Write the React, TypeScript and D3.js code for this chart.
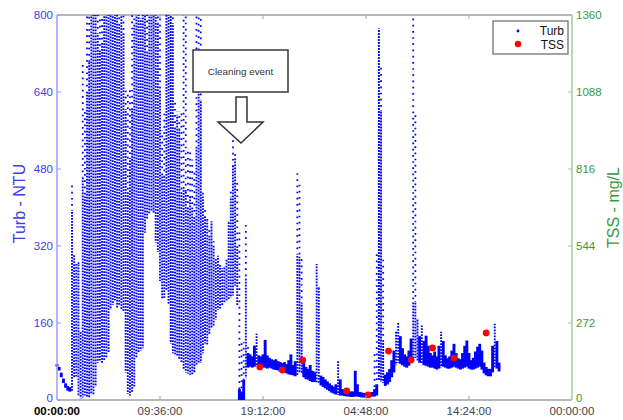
import { useEffect, useRef } from 'react';
import * as d3 from 'd3';

// Turbidity readings, binned every 0.2 h from 00:00:00.
// low / high = span of the dense readings in the bin, top = highest stray reading
const binHours = 0.2;
const turbLow = [
  72, 64, 50, 38, 28, 22, 20, 22, 50, 50,
  10, 6, 8, 12, 10, 8, 15, 12, 30, 80,
  85, 80, 85, 90, 100, 190, 200, 210, 195, 200,
  190, 185, 60, 15, 12, 20, 30, 90, 100, 105,
  110, 350, 380, 390, 395, 390, 330, 310, 250, 214,
  214, 230, 200, 120, 100, 98, 95, 88, 80, 65,
  60, 58, 55, 56, 60, 75, 78, 80, 100, 120,
  118, 140, 152, 155, 170, 190, 193, 200, 205, 208,
  210, 215, 220, 240, 200, 0, 0, 2, 48, 70,
  72, 70, 72, 74, 70, 72, 70, 70, 68, 70,
  68, 66, 65, 64, 62, 60, 60, 58, 56, 55,
  54, 52, 55, 60, 58, 50, 46, 45, 42, 40,
  40, 38, 36, 33, 30, 27, 24, 21, 18, 16,
  14, 13, 12, 12, 11, 10, 10, 9, 9, 10,
  10, 9, 8, 8, 8, 8, 9, 10, 10, 12,
  42, 40, 38, 32, 35, 40, 50, 60, 75, 80,
  78, 75, 72, 70, 74, 80, 85, 90, 85, 80,
  78, 75, 74, 72, 70, 70, 68, 66, 68, 70,
  72, 70, 68, 68, 70, 72, 70, 68, 66, 68,
  70, 72, 68, 66, 66, 68, 70, 72, 66, 58,
  54, 52, 52, 60, 70, 68, 62,
];
const turbHigh = [
  72, 66, 54, 42, 32, 26, 24, 390, 300, 280,
  280, 140, 460, 420, 640, 700, 800, 800, 800, 760,
  720, 740, 800, 800, 800, 800, 800, 800, 800, 780,
  800, 760, 600, 430, 500, 600, 780, 800, 800, 790,
  800, 800, 720, 800, 800, 800, 800, 780, 640, 470,
  460, 800, 800, 800, 780, 560, 590, 560, 430, 440,
  430, 400, 420, 400, 380, 520, 640, 620, 420, 380,
  370, 340, 368, 320, 290, 297, 280, 270, 276, 290,
  368, 420, 484, 500, 320, 20, 15, 40, 250, 95,
  92, 88, 110, 135, 90, 88, 92, 122, 90, 85,
  82, 80, 82, 78, 76, 74, 76, 72, 80, 92,
  70, 78, 300, 295, 200, 80, 66, 62, 70, 58,
  56, 280, 230, 48, 45, 40, 36, 32, 28, 25,
  30, 78, 40, 20, 18, 16, 16, 15, 15, 58,
  30, 14, 13, 12, 12, 12, 13, 14, 20, 30,
  769, 600, 120, 50, 55, 62, 80, 100, 140, 160,
  130, 105, 92, 88, 100, 125, 200, 201, 166, 130,
  152, 120, 131, 110, 95, 90, 98, 88, 110, 139,
  120, 90, 84, 88, 100, 114, 95, 84, 82, 95,
  110, 121, 95, 80, 85, 98, 108, 114, 100, 75,
  66, 62, 62, 110, 156, 120, 75,
];
const turbTop = [
  72, 66, 54, 42, 32, 26, 24, 450, 300, 290,
  290, 150, 700, 600, 800, 800, 800, 800, 800, 800,
  800, 800, 800, 800, 800, 800, 800, 800, 800, 800,
  800, 800, 650, 640, 650, 800, 800, 800, 800, 800,
  800, 800, 800, 800, 800, 800, 800, 800, 800, 560,
  600, 800, 800, 800, 800, 620, 600, 600, 600, 800,
  800, 520, 520, 500, 480, 800, 800, 800, 440, 400,
  380, 360, 370, 330, 300, 300, 290, 280, 280, 300,
  370, 440, 544, 520, 460, 350, 120, 120, 368, 110,
  95, 90, 112, 135, 90, 88, 92, 125, 90, 85,
  82, 80, 82, 78, 76, 74, 76, 72, 80, 92,
  70, 78, 471, 450, 300, 80, 66, 62, 70, 58,
  56, 280, 240, 48, 45, 40, 36, 32, 28, 25,
  30, 78, 40, 20, 18, 16, 16, 15, 15, 58,
  30, 14, 13, 12, 12, 12, 13, 14, 100, 312,
  769, 700, 300, 50, 55, 62, 80, 100, 140, 160,
  130, 105, 92, 88, 100, 125, 800, 600, 166, 130,
  152, 120, 131, 110, 95, 90, 98, 88, 110, 139,
  120, 90, 84, 88, 100, 114, 95, 84, 82, 95,
  110, 121, 95, 80, 85, 98, 108, 114, 100, 75,
  66, 62, 62, 110, 156, 120, 75,
];

// TSS lab samples (hours from start, mg/L)
const tssHours = [18.9, 21.0, 22.9, 27.0, 29.0, 30.9, 33.0, 35.0, 37.0, 40.0];
const tssValues = [117, 106, 141, 32, 18, 173, 141, 184, 148, 237];

const xTickHours = [0, 9.6, 19.2, 28.8, 38.4, 48];
const xTickLabels = ['00:00:00', '09:36:00', '19:12:00', '04:48:00', '14:24:00', '00:00:00'];
const turbTicks = [0, 160, 320, 480, 640, 800];
const tssTicks = [0, 272, 544, 816, 1088, 1360];

const W = 623;
const H = 420;
const left = 57;
const right = 572;
const top = 15;
const bottom = 400;
const font = "'Liberation Sans', Arial, sans-serif";

export default function App() {
  const ref = useRef<SVGSVGElement>(null);

  useEffect(() => {
    const svg = d3.select(ref.current);
    svg.selectAll('*').remove();

    const x = d3.scaleLinear().domain([0, 48]).range([left, right]);
    const yT = d3.scaleLinear().domain([0, 800]).range([bottom, top]);
    const yS = d3.scaleLinear().domain([0, 1360]).range([bottom, top]);

    svg.append('rect').attr('width', W).attr('height', H).attr('fill', '#fff');

    // frame
    svg.append('line').attr('x1', left).attr('x2', right).attr('y1', top).attr('y2', top).attr('stroke', '#a0a0a0').attr('stroke-width', 1.5);
    svg.append('line').attr('x1', left).attr('x2', right).attr('y1', bottom).attr('y2', bottom).attr('stroke', '#a0a0a0').attr('stroke-width', 1.5);

    // turbidity dots
    const g = svg.append('g').attr('stroke', '#0000ff');
    turbLow.forEach((lo, i) => {
      const cx = x(i * binHours);
      const hi = turbHigh[i];
      const tp = turbTop[i];
      const noisy = hi - lo > 60;
      const ya = Math.min(yT(lo) + 1.3, bottom);
      const yb = yT(hi) - 1.3;
      g.append('line')
        .attr('x1', cx).attr('x2', cx)
        .attr('y1', ya).attr('y2', Math.max(yb, top))
        .attr('stroke-width', noisy ? 1.9 : 2.9)
        .attr('stroke-dasharray', noisy ? '1.8 1.2' : null)
        .attr('stroke-dashoffset', (i * 13) % 7 * 0.45);
      if (tp > hi) {
        g.append('line')
          .attr('x1', cx).attr('x2', cx)
          .attr('y1', yb).attr('y2', Math.max(yT(tp), top))
          .attr('stroke-width', 1.8)
          .attr('stroke-dasharray', '1.7 4.5')
          .attr('stroke-dashoffset', (i * 3) % 5);
      }
    });

    // TSS samples
    svg.append('g').selectAll('circle').data(tssValues).join('circle')
      .attr('cx', (d, i) => x(tssHours[i]))
      .attr('cy', d => yS(d))
      .attr('r', 3.4)
      .attr('fill', '#ff0000');

    // left axis
    svg.append('line').attr('x1', left).attr('x2', left).attr('y1', top).attr('y2', bottom).attr('stroke', '#9a9aff').attr('stroke-width', 1.5);
    turbTicks.forEach(t => {
      svg.append('line').attr('x1', left).attr('x2', left + 4).attr('y1', yT(t)).attr('y2', yT(t)).attr('stroke', '#9a9aff');
      svg.append('text').attr('x', 53).attr('y', yT(t)).attr('dy', t === 0 ? '0.2em' : '0.36em').attr('text-anchor', 'end')
        .attr('font-family', font).attr('font-size', 11.5).attr('fill', '#3b3bf0').text(t);
    });
    svg.append('text')
      .attr('transform', `translate(25,${(top + bottom) / 2 - 4}) rotate(-90)`)
      .attr('text-anchor', 'middle').attr('font-family', font).attr('font-size', 16)
      .attr('fill', '#3b3bf0').text('Turb - NTU');

    // right axis
    svg.append('line').attr('x1', right).attr('x2', right).attr('y1', top).attr('y2', bottom).attr('stroke', '#9ccc9c').attr('stroke-width', 1.5);
    tssTicks.forEach(t => {
      svg.append('line').attr('x1', right - 4).attr('x2', right).attr('y1', yS(t)).attr('y2', yS(t)).attr('stroke', '#9ccc9c');
      svg.append('text').attr('x', 576).attr('y', yS(t)).attr('dy', t === 0 ? '0.2em' : '0.36em')
        .attr('font-family', font).attr('font-size', 11.5).attr('fill', '#3a9a3a').text(t);
    });
    svg.append('text')
      .attr('transform', `translate(619,${(top + bottom) / 2}) rotate(-90)`)
      .attr('text-anchor', 'middle').attr('font-family', font).attr('font-size', 16)
      .attr('fill', '#3a9a3a').text('TSS - mg/L');

    // x ticks
    xTickHours.forEach((h, i) => {
      const tx = x(h);
      if (i > 0 && i < xTickHours.length - 1) {
        svg.append('line').attr('x1', tx).attr('x2', tx).attr('y1', bottom).attr('y2', bottom - 4).attr('stroke', '#a0a0a0');
        svg.append('line').attr('x1', tx).attr('x2', tx).attr('y1', top).attr('y2', top + 4).attr('stroke', '#a0a0a0');
      }
      svg.append('text').attr('x', tx).attr('y', 415).attr('text-anchor', 'middle')
        .attr('font-family', font).attr('font-size', 11.5)
        .attr('font-weight', i === 0 ? 'bold' : 'normal')
        .attr('fill', i === 0 ? '#000' : '#444').text(xTickLabels[i]);
    });

    // legend
    const lg = svg.append('g');
    lg.append('rect').attr('x', 493).attr('y', 21).attr('width', 75).attr('height', 33)
      .attr('fill', '#fff').attr('stroke', '#666').attr('stroke-width', 1.2);
    lg.append('circle').attr('cx', 518).attr('cy', 31).attr('r', 1.4).attr('fill', '#0000ff');
    lg.append('circle').attr('cx', 518).attr('cy', 44).attr('r', 3.2).attr('fill', '#ff0000');
    lg.append('text').attr('x', 564).attr('y', 35).attr('text-anchor', 'end')
      .attr('font-family', font).attr('font-size', 12).attr('fill', '#111').text('Turb');
    lg.append('text').attr('x', 564).attr('y', 49).attr('text-anchor', 'end')
      .attr('font-family', font).attr('font-size', 12).attr('fill', '#111').text('TSS');

    // cleaning event annotation
    const an = svg.append('g');
    an.append('rect').attr('x', 193).attr('y', 50).attr('width', 95).attr('height', 42)
      .attr('fill', '#fff').attr('stroke', '#444').attr('stroke-width', 1.6);
    an.append('text').attr('x', 240.5).attr('y', 75).attr('text-anchor', 'middle')
      .attr('font-family', font).attr('font-size', 9.8).attr('fill', '#333').text('Cleaning event');
    an.append('path')
      .attr('d', 'M236,97 L247,97 L247,122 L263,122 L241,143 L218,122 L236,122 Z')
      .attr('fill', '#fff').attr('stroke', '#333').attr('stroke-width', 1.5);
  }, []);

  return (
    <svg ref={ref} width={W} height={H}
      style={{ position: 'absolute', left: 0, top: 0, display: 'block' }} />
  );
}
